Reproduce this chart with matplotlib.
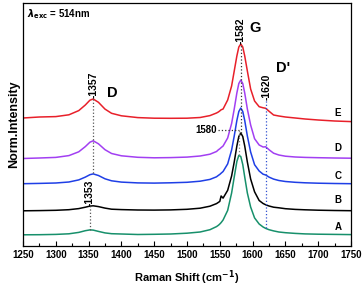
import matplotlib
matplotlib.use("Agg")
from matplotlib import pyplot as plt
from matplotlib.ticker import MultipleLocator

plt.rcParams["font.family"] = ["Liberation Sans", "DejaVu Sans"]
plt.rcParams["font.weight"] = "bold"

# Raman shift sampling points (cm^-1)
shift = [1250, 1275, 1300, 1320, 1335, 1345, 1352, 1357, 1365, 1375, 1385, 1400,
         1425, 1450, 1475, 1500, 1520, 1535, 1545, 1548, 1550, 1552, 1555, 1562,
         1568, 1572, 1576, 1579, 1582, 1585, 1588, 1592, 1597, 1603, 1610, 1616,
         1620, 1625, 1632, 1640, 1650, 1665, 1680, 1700, 1725, 1750]

# stacked, normalised intensities (offset already included)
spec_E = [128, 129, 129.4, 131.2, 135.4, 141, 145.8, 147, 143.7, 136.9, 132.7, 130.2,
          128.4, 127.8, 127.7, 127.8, 128.5, 130.4, 133, 134.1, 135.1, 136.2, 137, 146,
          160, 175, 190, 199, 202, 199, 190, 175, 157, 145, 139.3, 138.2,
          137.7, 134.8, 131, 130, 129, 128, 127, 126, 125, 124.4]
spec_D = [87.5, 88, 88.6, 90.4, 94.2, 99.4, 103.8, 105.2, 102.2, 96.3, 92.5, 90.2,
          88.7, 88.2, 88.4, 88.9, 90, 91.8, 94.5, 96.3, 97.2, 98.4, 100, 108,
          122.5, 137, 153, 162.5, 166, 162.5, 153, 137, 121, 107.3, 101, 99,
          99.2, 96.3, 92.8, 91, 89.8, 89, 88.6, 88.3, 88, 87.8]
spec_C = [62.3, 62.6, 63, 64, 66.1, 68.9, 71.3, 72.1, 70.5, 67.2, 65.2, 63.9,
          63.1, 62.9, 63.2, 63.7, 64.8, 66.6, 69.2, 70.7, 71.6, 72.8, 74.5, 82.1,
          96, 110, 125.5, 134.5, 138, 134.5, 125.5, 110, 94, 81.3, 75, 71.8,
          71, 68.9, 66.9, 65.5, 64.5, 63.7, 63.2, 62.8, 62.5, 62.3]
spec_B = [35.2, 35.4, 35.7, 36.3, 37.4, 38.8, 39.9, 40.2, 39.4, 37.9, 36.8, 36.4,
          36, 35.9, 36.1, 36.7, 37.8, 39.8, 42.4, 43.7, 44.6, 50, 47.9, 55.7,
          70, 84, 100, 109.5, 113, 109.5, 100, 84, 67, 54.2, 45.5, 42.5,
          41.2, 40, 38.8, 38.2, 37.3, 36.6, 36.2, 35.8, 35.5, 35.3]
spec_A = [11.2, 11.3, 11.6, 12.2, 13.6, 15.3, 16.1, 15.9, 14.6, 13.1, 12.3, 12,
          11.5, 11.7, 12, 12.8, 14, 16.3, 19.4, 20.8, 22, 23.4, 26, 35.6,
          53, 69, 84.5, 90.6, 89.5, 81.5, 69, 53, 39, 28.1, 22, 19,
          17.6, 16.3, 15.1, 14, 13.3, 12.6, 12.1, 11.8, 11.6, 11.4]

spectra = [spec_A, spec_B, spec_C, spec_D, spec_E]
names = ["A", "B", "C", "D", "E"]
colors = ["#17906b", "#000000", "#1f3fe6", "#a23ff2", "#e8202a"]
name_y = [19, 46, 70, 98, 133]

fig = plt.figure(figsize=(3.64, 2.87), dpi=100)
ax = fig.add_axes([23 / 364, 41 / 287, 328 / 364, 243 / 287])

for y, c in zip(spectra, colors):
    ax.plot(shift, y, color=c, lw=1.1)

for n, y in zip(names, name_y):
    ax.text(1730, y, n, fontsize=7, fontweight="bold", ha="center", va="center")

# peak markers
ax.plot([1357, 1357], [73, 147], ls=":", color="#555555", lw=0.9)
ax.plot([1352, 1352], [16, 40], ls=":", color="#555555", lw=0.9)
ax.plot([1582, 1582], [113, 202], ls=":", color="#333333", lw=0.9)
ax.plot([1620, 1620], [18, 146], ls=":", color="#3050d0", lw=0.9)
ax.plot([1548, 1579], [116, 116], ls=":", color="#333333", lw=0.9)
ax.plot([1580, 1580], [91, 116], ls=":", color="#888888", lw=0.9)

ax.text(1357, 147.5, "-1357", rotation=90, fontsize=7.5, ha="center", va="bottom")
ax.text(1352, 40.5, "-1353", rotation=90, fontsize=7.5, ha="center", va="bottom")
ax.text(1582, 202.5, "-1582", rotation=90, fontsize=7.5, ha="center", va="bottom")
ax.text(1621, 146.5, "-1620", rotation=90, fontsize=7.5, ha="center", va="bottom")
ax.text(1546, 116, "1580", fontsize=7, ha="right", va="center")

ax.text(1386, 153, "D", fontsize=10.5, fontweight="bold", ha="center", va="center")
ax.text(1604, 218, "G", fontsize=10.5, fontweight="bold", ha="center", va="center")
ax.text(1647, 178, "D'", fontsize=10.5, fontweight="bold", ha="center", va="center")

ax.text(0.012, 0.955, r"$\lambda_{\mathrm{exc}}$ = 514nm", transform=ax.transAxes,
        fontsize=7, fontweight="bold", ha="left", va="center")

ax.set_xlim(1250, 1750)
ax.set_ylim(0, 243)
ax.xaxis.set_major_locator(MultipleLocator(50))
ax.xaxis.set_minor_locator(MultipleLocator(25))
ax.tick_params(axis="x", which="both", direction="in", labelsize=7, pad=3)
ax.tick_params(axis="x", which="major", length=3.5, width=0.8)
ax.tick_params(axis="x", which="minor", length=2, width=0.8)
ax.set_yticks([])
for lab in ax.get_xticklabels():
    lab.set_fontweight("bold")
for s in ax.spines.values():
    s.set_linewidth(0.9)

ax.set_xlabel("Raman Shift (cm$^{\\mathbf{-1}}$)", fontsize=8, fontweight="bold", labelpad=6)
ax.set_ylabel("Norm.Intensity", fontsize=9, fontweight="bold", labelpad=2)

fig.savefig("out.png", dpi=100)
